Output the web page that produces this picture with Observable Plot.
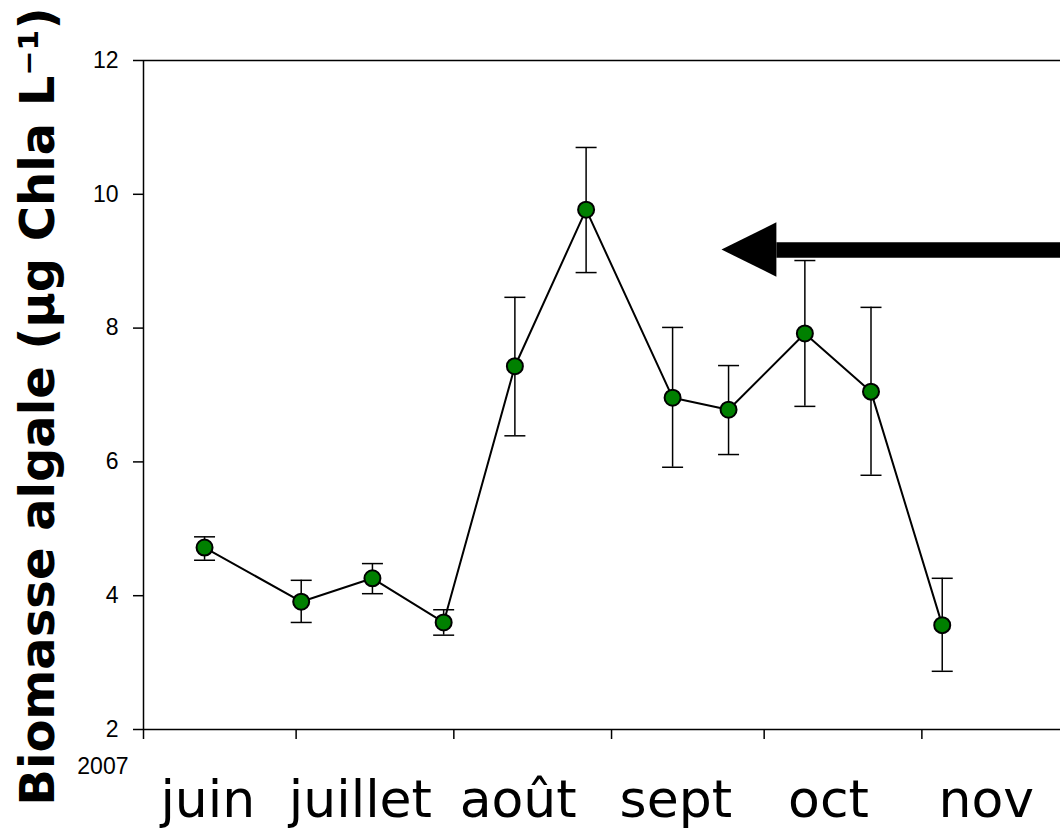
<!DOCTYPE html>
<html>
<head>
<meta charset="utf-8">
<script src="https://cdn.jsdelivr.net/npm/d3@7"></script>
<script src="https://cdn.jsdelivr.net/npm/@observablehq/plot@0.6"></script>
<style>
  html, body { margin: 0; padding: 0; background: #fff; overflow: hidden; }
  #chart svg { display: block; }
</style>
</head>
<body>
<div id="chart"></div>
<script>
// ---- data ----
const sampleDates = ["2007-06-13","2007-07-02","2007-07-16","2007-07-30","2007-08-13","2007-08-27","2007-09-13","2007-09-24","2007-10-09","2007-10-22","2007-11-05"];
const biomass  = [4.72, 3.91, 4.26, 3.60, 7.43, 9.77, 6.96, 6.78, 7.92, 7.05, 3.56];
const errLow   = [4.53, 3.60, 4.03, 3.41, 6.39, 8.83, 5.92, 6.11, 6.83, 5.80, 2.87];
const errHigh  = [4.88, 4.23, 4.48, 3.79, 8.46, 10.70, 8.01, 7.44, 9.01, 8.31, 4.26];

const monthStarts     = ["2007-06-01","2007-07-01","2007-08-01","2007-09-01","2007-10-01","2007-11-01"];
const monthLabelDates = ["2007-06-16","2007-07-16","2007-08-16","2007-09-16","2007-10-16","2007-11-16"];
const monthLabels     = ["juin","juillet","août","sept","oct","nov"];
const yTicks = [2, 4, 6, 8, 10, 12];
const yearLabel = "2007";
const yTitle = "Biomasse algale (µg Chla L⁻¹)";

// annotation arrow (data units)
const arrowTip  = "2007-09-22T17:00Z";
const arrowBase = "2007-10-03T12:00Z";
const arrowEnd  = "2007-12-01";
const arrowY = 9.167;
const arrowHeadLow = 8.761, arrowHeadHigh = 9.574;

// ---- build ----
const rows = sampleDates.map((d, i) => ({date: new Date(d), value: biomass[i], lo: errLow[i], hi: errHigh[i]}));
const labelByTime = new Map(monthLabelDates.map((d, i) => [+new Date(d), monthLabels[i]]));
const capSymbol = {draw(ctx) { ctx.moveTo(-10.5, 0); ctx.lineTo(10.5, 0); }};
const arrowHead = [
  {x: new Date(arrowTip), y1: arrowY, y2: arrowY},
  {x: new Date(arrowBase), y1: arrowHeadLow, y2: arrowHeadHigh}
];

const plot = Plot.plot({
  width: 1060,
  height: 829,
  marginTop: 60,
  marginBottom: 100,
  marginLeft: 143,
  marginRight: 0,
  style: {fontFamily: "Liberation Sans, Arial, sans-serif", background: "white", color: "black"},
  x: {type: "utc", domain: [new Date("2007-06-01"), new Date("2007-12-01")], range: [143, 1074]},
  y: {domain: [2, 12]},
  marks: [
    Plot.ruleY([2, 12], {stroke: "black", strokeWidth: 1.5}),
    Plot.ruleX([new Date(monthStarts[0])], {stroke: "black", strokeWidth: 1.5}),
    Plot.axisY({ticks: yTicks, tickSize: 10, tickFormat: () => "", strokeWidth: 1.5, label: null}),
    Plot.text(yTicks, {frameAnchor: "left", y: d => d, text: d => String(d), textAnchor: "end", dx: -25, fontSize: 23}),
    Plot.axisX({ticks: monthStarts.map(d => new Date(d)), tickSize: 10, tickFormat: () => "", strokeWidth: 1.5, label: null}),
    Plot.axisX({ticks: monthLabelDates.map(d => new Date(d)), tickSize: 0, tickPadding: 51,
      tickFormat: d => labelByTime.get(+d), fontSize: 52, fontFamily: "DejaVu Sans", dx: -12, label: null}),
    Plot.text([yearLabel], {frameAnchor: "bottom-left", textAnchor: "end", dx: -15, dy: 44, fontSize: 23}),
    Plot.text([yTitle], {frameAnchor: "left", rotate: -90, textAnchor: "middle", lineAnchor: "bottom",
      dx: -90, dy: 11.5, fontSize: 48, fontWeight: "bold", fontFamily: "DejaVu Sans"}),
    // error bars
    Plot.ruleX(rows, {x: "date", y1: "lo", y2: "hi", stroke: "black", strokeWidth: 1.5}),
    Plot.dot(rows, {x: "date", y: "lo", symbol: capSymbol, stroke: "black", strokeWidth: 1.5, fill: "none"}),
    Plot.dot(rows, {x: "date", y: "hi", symbol: capSymbol, stroke: "black", strokeWidth: 1.5, fill: "none"}),
    // series
    Plot.line(rows, {x: "date", y: "value", stroke: "black", strokeWidth: 2}),
    Plot.dot(rows, {x: "date", y: "value", r: 8, fill: "#008000", stroke: "black", strokeWidth: 2}),
    // arrow
    Plot.ruleY([arrowY], {x1: () => new Date(arrowBase), x2: () => new Date(arrowEnd), stroke: "black", strokeWidth: 15.5}),
    Plot.areaY(arrowHead, {x: "x", y1: "y1", y2: "y2", fill: "black"})
  ]
});

document.getElementById("chart").appendChild(plot);
</script>
</body>
</html>
